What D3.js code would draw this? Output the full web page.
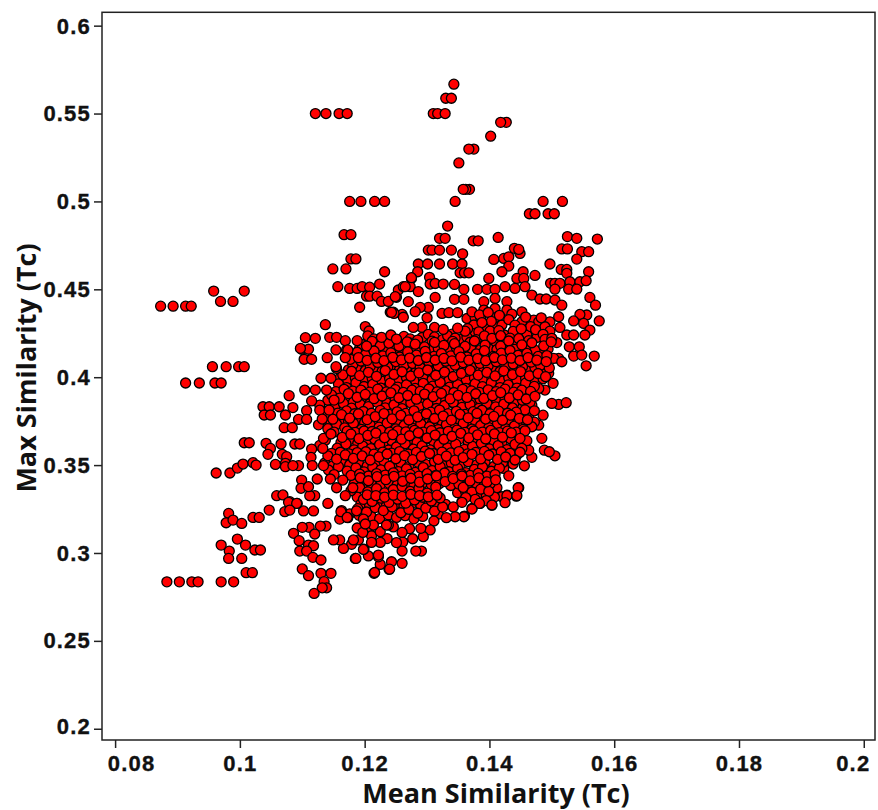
<!DOCTYPE html>
<html>
<head>
<meta charset="utf-8">
<style>
  html, body { margin: 0; padding: 0; background: #fff; }
  .tick text { font-family: "Liberation Sans", Arial, sans-serif; font-weight: bold; font-size: 22px; letter-spacing: 1.2px; fill: #111; stroke: #111; stroke-width: 0.35px; }
  .axis-title { font-family: "Open Sans", sans-serif; font-weight: 700; font-size: 27px; fill: #111; }
</style>
<script src="https://cdnjs.cloudflare.com/ajax/libs/d3/7.8.5/d3.min.js"></script>
</head>
<body>
<svg id="chart" width="878" height="810"></svg>
<script>
// Values, [mean similarity, max similarity]
const xTicks = [0.08, 0.1, 0.12, 0.14, 0.16, 0.18, 0.2];
const xTickLabels = ['0.08', '0.1', '0.12', '0.14', '0.16', '0.18', '0.2'];
const yTicks = [0.2, 0.25, 0.3, 0.35, 0.4, 0.45, 0.5, 0.55, 0.6];
const yTickLabels = ['0.2', '0.25', '0.3', '0.35', '0.4', '0.45', '0.5', '0.55', '0.6'];

const leftRows = [
  [.0873,.4404],[.0893,.4404],[.0913,.4404],[.0922,.4404],[.0958,.449],[.1007,.449],[.0969,.4431],[.0989,.4431],
  [.0956,.406],[.0978,.406],[.0998,.406],[.1007,.406],[.0913,.3967],[.0935,.3967],[.096,.3967],[.097,.3967],
  [.0883,.2836],[.0903,.2836],[.0923,.2836],[.0933,.2836],[.097,.2836],[.099,.2836],
  [.0962,.3455],[.0984,.3455],[.0996,.3483],[.1005,.3506],[.1021,.3514],[.1026,.35],[.1007,.3627],[.1015,.3627],
  [.0982,.3225],[.0978,.3172],[.0989,.3187],[.1003,.3168],[.1021,.3202],[.1031,.3202],[.0996,.3079],[.097,.3045],
  [.1009,.3045],[.0983,.3011],[.0982,.2969],[.1003,.2969],[.1024,.3017],[.1033,.3017],[.101,.2888],[.102,.2888]
];

const topPoints = [
  [.1121,.55],[.1138,.55],[.1159,.55],[.1172,.55],[.1176,.5],[.1194,.5],[.1216,.5],[.1232,.5],[.1167,.4811],[.1178,.4811],
  [.1178,.4673],[.1186,.4673],[.1149,.4616],[.117,.4616],[.1232,.46],[.1157,.4515],[.1176,.4505],[.1188,.4505],[.1196,.4515],
  [.1208,.4512],[.1224,.453],[.1203,.4461],[.1208,.4461],[.122,.4461],[.1227,.4431],[.1238,.4431],[.1251,.4455],[.1254,.4496],
  [.1192,.4398],[.1241,.437],[.1246,.437],[.1137,.4299],[.1201,.4288],[.1207,.4263],
  [.1343,.5667],[.133,.5587],[.1339,.5587],[.131,.55],[.1317,.55],[.1329,.55],[.1427,.545],[.1418,.545],[.1402,.5371],
  [.1375,.5298],[.1367,.5298],[.1351,.5219],[.1368,.5069],[.1362,.5069],[.1358,.5069],[.1345,.5],[.1486,.5],[.1517,.5],
  [.1464,.493],[.1473,.493],[.1494,.493],[.1504,.493],[.1333,.486],[.132,.479],[.1329,.479],[.1374,.4776],[.1382,.4776],
  [.1414,.4795],[.1525,.48],[.154,.479],[.1573,.4786],[.1302,.4723],[.1308,.4723],[.132,.4723],[.1339,.4723],[.1357,.4702],
  [.1407,.467],[.1423,.4676],[.1431,.4685],[.144,.4733],[.1449,.4704],[.1447,.4727],[.1516,.473],[.1525,.473],[.1548,.4714],
  [.1559,.4714],[.154,.4672],[.1497,.4644],[.1286,.4644],[.1301,.4644],[.132,.4644],[.1341,.4644],[.1356,.4644],[.1431,.4632],
  [.1285,.46],[.1275,.4562],[.1353,.4594],[.136,.4594],[.1367,.4594],[.142,.46],[.1454,.46],[.1473,.4579],[.1515,.4613],
  [.1524,.4613],[.1524,.4591],[.1559,.46],[.1399,.4562],[.1444,.4562],[.1455,.4562],[.1498,.4534],[.1505,.4534],[.1513,.4534],
  [.1529,.4543],[.1545,.4543],[.1555,.4549],[.1505,.4501],[.1527,.4501],[.154,.4501],[.1304,.4568],[.1305,.453],[.1313,.4533],
  [.1326,.453],[.1344,.4528],[.1262,.4515],[.1273,.4515],[.1359,.45],[.1381,.45],[.1396,.45],[.1409,.45],[.1425,.4515],
  [.1441,.4505],[.1457,.4515],[.1286,.4487],[.1249,.4458],[.1265,.4515],[.1275,.4566],[.127,.443],[.1313,.4454],[.1302,.4397],
  [.1289,.4397],[.1281,.4373],[.1344,.4443],[.1359,.4443],[.1391,.443],[.1428,.443],[.1409,.4448],[.1468,.4467],[.1481,.4445],
  [.1491,.4445],[.1505,.4439],[.1516,.441],[.1561,.4454],[.157,.441],[.1576,.432],[.1556,.4354],[.1545,.4357],[.1535,.432],
  [.1551,.4306],[.1561,.4268],[.1553,.424],[.1513,.4283],[.1497,.4315],[.1511,.4344],[.1524,.424],[.1535,.424],[.1528,.4173],
  [.1544,.4173],[.1535,.412],[.1548,.4126],[.1568,.412],[.1555,.4065],[.1511,.4107],[.1503,.4107],[.1516,.4088],[.1324,.4363],
  [.1335,.4367],[.1349,.4367],[.1364,.4334],[.1312,.4283],[.1292,.4283],[.1278,.4283],[.13,.4338],[.126,.4357],[.1247,.4363],
  [.1292,.4226],[.134,.4245],[.1352,.4217],[.1243,.4369],[.1262,.4341],[.1409,.4391],[.1409,.4338],[.1391,.4382],[.1428,.4382],
  [.1436,.4359],[.1452,.4372],[.1452,.4315],[.1471,.4325],[.1479,.4315],[.1489,.4287],[.1377,.434],[.1386,.434],[.1375,.4297],
  [.1392,.4283],[.1409,.4283],[.142,.4297],[.1424,.424],[.1377,.4249],[.146,.424],[.1476,.4226],[.1439,.4198],[.1407,.4192]
];

const lowerPoints = [
  [.1446,.3371],[.1428,.3326],[.1444,.3326],[.1404,.3273],[.1425,.3286],[.1384,.3282],[.1372,.325],[.1359,.3206],[.1345,.3206],
  [.1331,.3201],[.1356,.3288],[.1311,.3182],[.1305,.3131],[.1294,.3093],[.129,.314],[.1291,.3011],[.1282,.3011],[.126,.2941],
  [.1239,.2907],[.1215,.2884],[.1225,.2935],[.1243,.295],[.126,.3011],[.1222,.2978],[.1206,.2983],[.1185,.2969],[.1199,.3022],
  [.1251,.3059],[.1225,.306],[.1211,.306],[.1179,.3049],[.1166,.3026],[.116,.3074],[.115,.3074],[.119,.3074],[.1197,.3117],
  [.126,.3117],[.1238,.3159],[.1225,.3121],[.1214,.3159],[.1198,.3193],[.1173,.3201],[.116,.3193],[.1163,.3241],[.1141,.3282],
  [.1118,.3239],[.1102,.3239],[.1092,.3282],[.108,.3292],[.1138,.3153],[.1129,.3153],[.1111,.3146],[.11,.3146],[.1086,.3112],
  [.112,.3108],[.1095,.307],[.111,.3045],[.1118,.3041],[.1096,.3011],[.1107,.3011],[.1117,.2975],[.113,.296],[.11,.2909],
  [.111,.2871],[.113,.2884],[.1146,.2884],[.1135,.2837],[.1139,.2802],[.1132,.2802],[.1119,.277],[.1099,.3415],[.112,.3326],
  [.1112,.3326],[.1098,.3368],[.111,.3377],[.1059,.3326],[.1069,.333],[.1078,.3288],[.1091,.3282],[.1072,.3235],[.108,.3244],
  [.1047,.3244],[.1162,.3235],[.1172,.3202],[.1155,.3371],[.1169,.3326],[.1181,.3371],[.1187,.324],[.1124,.3421],[.1145,.3421],
  [.1165,.3415],[.1182,.3074],[.1186,.2969],[.1198,.302],[.1222,.2988],[.1216,.2889],[.124,.2908],[.1235,.3159],[.1201,.3165],
  [.1042,.3624],[.1066,.362],[.1088,.362],[.1096,.362],[.1049,.3595],[.1045,.3561],[.1068,.3561],[.1075,.3548],[.1115,.3591],
  [.1133,.3595],[.1134,.3652],[.1146,.3677],[.1057,.3504],[.1073,.351],[.1073,.3491],[.1094,.3497],[.1085,.3497],[.1114,.3544],
  [.1116,.3497],[.1134,.3497],[.1079,.3895],[.1037,.3832],[.1047,.3832],[.1039,.3785],[.1049,.3785],[.1063,.3832],[.1073,.3785],
  [.1085,.3827],[.1094,.376],[.1107,.381],[.1071,.3713],[.1084,.3713],[.1107,.376],[.1115,.3865],[.1104,.3927],[.1121,.3927],
  [.1139,.3927],[.1128,.3813],[.1143,.3813],[.1132,.3762],[.1151,.387],[.113,.3994],[.1146,.3994],[.1099,.4159],[.111,.4159],
  [.1103,.4102],[.1115,.4102],[.114,.4111],[.1155,.405],[.1154,.4155],[.1171,.4155],[.1105,.4225],[.1121,.4221],[.1144,.4227],
  [.1155,.4227],[.1169,.4208],[.1188,.4208],[.1227,.4227],[.1242,.424],[.1251,.4217],[.1203,.4177],[.1173,.4155],[.1169,.4111],
  [.1154,.406],[.1097,.4164]
];

const rightEdge = [
  [.1484,.4139],[.15,.4221],[.1471,.4154],[.1455,.4154],[.1463,.4097],[.1444,.4097],[.1471,.4041],[.1487,.4069],[.1495,.4022],
  [.1502,.3965],[.1489,.3927],[.1479,.3936],[.1511,.3845],[.1523,.3855],[.15,.3851],[.1486,.3784],[.1479,.3727],[.1463,.3784],
  [.1468,.3841],[.1449,.3832],[.1484,.3652],[.1488,.3585],[.1505,.3553],[.1496,.3576],[.1468,.3544],[.1456,.3496],[.1463,.3585],
  [.1444,.3557],[.1431,.3585],[.1423,.3481],[.1431,.3439],[.1407,.3449],[.1447,.3371],[.1412,.3371],[.1428,.3329],[.142,.332],
  [.1443,.3323],[.1404,.3272],[.1385,.3282],[.1372,.3253],[.136,.321],[.1356,.3291],[.1391,.3329],[.1369,.3329]
];

// upper block of the cloud, right of the middle
const upperBlock = [
  [.1372,.4372],[.1384,.4355],[.1398,.4368],[.1403,.4318],[.1416,.4352],[.1388,.4311],[.1401,.4262],[.1365,.4276],[.1383,.4258],[.1415,.4265],
  [.1431,.4328],[.1441,.4296],[.1458,.4342],[.1466,.4288],[.1438,.4261],[.1451,.4275],[.1483,.4338],[.1497,.4262],[.1474,.4271],[.1486,.4244],
  [.1364,.4228],[.1379,.4214],[.1392,.4235],[.1404,.4221],[.1418,.4236],[.1433,.4222],[.1447,.4219],[.1463,.4208],[.1489,.4215],[.1508,.4197],
  [.1205,.4235],[.1215,.4218],[.1233,.4205],[.1263,.4232],[.1273,.4218],[.1302,.4244],[.1312,.4229],[.1325,.4214],[.1333,.4236],[.1345,.4222],[.1361,.4262],[.1349,.4279],[.1326,.4272],
  [.1308,.4205],[.1285,.4211],[.1271,.4197],[.1248,.4213],[.1341,.4204],[.1369,.4199]
];

// dense middle of the cloud, written row by row
const corePoints = [
  [.1196,.4186],[.1212,.4204],[.1225,.4179],[.1239,.4193],[.1255,.4176],[.1268,.4201],[.1281,.4188],[.1296,.4172],[.1312,.4198],[.1327,.4181],[.1344,.4191],[.1361,.4175],[.1376,.4206],[.1393,.4183],[.1418,.4177],[.1431,.4206],[.1452,.4184],[.1468,.4196],[.1487,.4178],[.1499,.4201],
  [.1174,.4042],[.1187,.4058],[.1201,.4037],[.1214,.4052],[.1228,.4033],[.1242,.4061],[.1256,.4044],[.1268,.4059],[.1283,.4036],[.1295,.4053],[.1309,.4031],[.1323,.4057],[.1335,.4041],[.1351,.4062],[.1364,.4034],[.1377,.4051],[.1391,.4039],[.1404,.4056],[.1417,.4032],[.1431,.4048],[.1445,.4061],[.1459,.4038],[.1473,.4054],[.1489,.4036],
  [.1181,.4071],[.1194,.4092],[.1209,.4062],[.1221,.4084],[.1237,.4058],[.125,.4089],[.1263,.4067],[.1277,.4078],[.1289,.4056],[.1303,.4087],[.1318,.4064],[.133,.4091],[.1345,.4069],[.1358,.4083],[.1371,.4057],[.1385,.4079],[.1398,.4065],[.1411,.4088],[.1426,.4061],[.1438,.4076],[.1453,.4059],[.1467,.4086],[.1482,.4068],[.1496,.4053],
  [.1158,.3962],[.1171,.3941],[.1186,.3968],[.1199,.3947],[.1213,.3959],[.1226,.3938],[.1241,.3966],[.1253,.3944],[.1267,.3957],[.1281,.3936],[.1294,.3965],[.1309,.3949],[.1321,.3971],[.1336,.3943],[.1349,.3958],[.1362,.3937],[.1377,.3963],[.1389,.3946],[.1403,.3969],[.1417,.3941],[.143,.3956],[.1444,.3938],[.1458,.3966],[.1472,.3948],
  [.1141,.3869],[.1155,.3852],[.1168,.3874],[.1182,.3858],[.1195,.3871],[.1208,.3849],[.1222,.3866],[.1236,.3853],[.1249,.3873],[.1262,.3847],[.1276,.3864],[.129,.3851],[.1303,.3876],[.1317,.3856],[.133,.3868],[.1344,.3848],[.1357,.3867],[.1371,.3854],[.1385,.3875],[.1398,.3846],[.1412,.3863],[.1425,.3877],[.1439,.3851],[.1453,.3869],[.1465,.3857],
  [.1128,.3841],[.1152,.3829],[.1166,.3851],[.1179,.3824],[.1193,.3846],[.1206,.3833],[.122,.3857],[.1233,.3826],[.1247,.3843],[.126,.3821],[.1274,.3854],[.1287,.3834],[.1301,.3848],[.1315,.3822],[.1328,.3839],[.1342,.3856],[.1356,.3828],[.1369,.3844],[.1383,.3823],[.1396,.3851],[.141,.3831],[.1423,.3847],[.1437,.3825],[.1457,.3814],[.1472,.3809],
  [.1126,.3729],[.1141,.3707],[.1155,.3732],[.1168,.3712],[.1182,.3738],[.1195,.3703],[.1209,.3727],[.1223,.3716],[.1236,.3739],[.125,.3706],[.1263,.3724],[.1277,.3709],[.129,.3735],[.1304,.3718],[.1318,.3702],[.1331,.3731],[.1345,.3711],[.1358,.3737],[.1372,.3705],[.1386,.3725],[.1399,.3713],[.1413,.3736],[.1426,.3708],[.144,.3722],[.1454,.3703],[.1468,.3718],
  [.1137,.3642],[.1162,.3628],[.1176,.3645],[.1189,.3624],[.1203,.3638],[.1216,.3649],[.123,.3627],[.1243,.3641],[.1257,.3626],[.1271,.3644],[.1284,.3629],[.1298,.3647],[.1311,.3631],[.1325,.3643],[.1338,.3625],[.1352,.3648],[.1366,.3633],[.1379,.3646],[.1393,.3628],[.1406,.3641],[.142,.3624],[.1434,.3649],[.1447,.3632],[.146,.3639],
  [.1128,.3612],[.1156,.3596],[.117,.3621],[.1183,.3587],[.1197,.3608],[.121,.3594],[.1224,.3617],[.1238,.3585],[.1251,.3603],[.1265,.3622],[.1278,.3591],[.1292,.3609],[.1305,.3586],[.1319,.3615],[.1333,.3598],[.1346,.3619],[.136,.3589],[.1373,.3606],[.1387,.3624],[.14,.3592],[.1414,.3611],[.1428,.3588],[.1441,.3618],[.1452,.3595],
  [.1136,.3512],[.1149,.3496],[.1163,.3518],[.1176,.3502],[.119,.3515],[.1204,.3494],[.1217,.3509],[.1231,.3522],[.1244,.3498],[.1258,.3513],[.1271,.3493],[.1285,.3517],[.1298,.3504],[.1312,.3521],[.1326,.3495],[.1339,.3511],[.1353,.3497],[.1366,.3519],[.138,.3503],[.1393,.3516],[.1407,.3492],[.1421,.3514],[.1438,.3506],
  [.1142,.3472],[.1158,.3491],[.1172,.3466],[.1186,.3484],[.1199,.3461],[.1213,.3488],[.1226,.3473],[.124,.3493],[.1254,.3463],[.1267,.3479],[.1281,.3458],[.1294,.3486],[.1308,.3469],[.1321,.3491],[.1335,.3462],[.1349,.3481],[.1362,.3457],[.1376,.3476],[.1389,.3489],[.1403,.3465],[.1416,.3483],
  [.1183,.3392],[.1196,.3386],[.1211,.3393],[.1225,.3385],[.1239,.3396],[.1252,.3387],[.1266,.3394],[.1279,.3384],[.1293,.3397],[.1307,.3388],[.132,.3395],[.1338,.3384],[.1351,.3392],[.1365,.3386],[.1378,.3397],[.1392,.3389],[.1401,.3394],
  [.1178,.3354],[.1192,.3372],[.1205,.3348],[.1219,.3366],[.1232,.3342],[.1246,.3361],[.126,.3379],[.1273,.3351],[.1287,.3368],[.13,.3341],[.1314,.3375],[.1358,.3373],[.1372,.3347],[.1386,.3363],[.1399,.3351],
  [.1189,.3252],[.1203,.3233],[.1217,.3258],[.123,.3241],[.1244,.3262],[.1258,.3229],[.1271,.3248],[.1285,.3226],[.1298,.3255],[.1312,.3238],[.1325,.3261],
  [.1188,.4142],[.1201,.4127],[.1215,.4149],[.1229,.4121],[.1242,.4138],[.1256,.4115],[.1269,.4144],[.1283,.4126],[.1297,.4147],[.1311,.4118],[.1323,.4135],[.1338,.4121],[.1351,.4146],[.1364,.4114],[.1379,.4133],[.1392,.4151],[.1406,.4118],[.1419,.4137],[.1433,.4152],[.1446,.4125],[.146,.4136],[.1478,.4118],[.1492,.4123],
  [.1177,.4102],[.119,.4111],[.1204,.4096],[.1218,.4108],[.1231,.4094],[.1245,.4113],[.1259,.4099],[.1272,.4109],[.1286,.4095],[.1299,.4112],[.1313,.4098],[.1327,.4107],[.134,.4093],[.1354,.4114],[.1367,.4097],[.1381,.4106],[.1394,.4094],[.1408,.4112],[.1421,.4099],[.1435,.4108],[.1449,.4095],[.1462,.4111],[.1476,.4097],[.1491,.4089],
  [.1165,.4013],[.1179,.4034],[.1192,.4009],[.1206,.4028],[.1219,.4005],[.1233,.4038],[.1247,.4016],[.126,.4031],[.1274,.4006],[.1287,.4025],[.1301,.4041],[.1314,.4011],[.1328,.4029],[.1342,.4004],[.1355,.4022],[.1369,.4039],[.1382,.4012],[.1396,.4027],[.1409,.4007],[.1423,.4036],[.1437,.4015],[.145,.4032],[.1464,.4008],[.1478,.4021],[.149,.4003],
  [.1154,.3918],[.1167,.3931],[.1181,.3921],[.1194,.3927],[.1208,.3915],[.1221,.3932],[.1235,.3917],[.1249,.3929],[.1262,.3914],[.1276,.3926],[.1289,.3919],[.1303,.3933],[.1316,.3916],[.133,.3924],[.1343,.3913],[.1357,.3931],[.1371,.3922],[.1384,.3914],[.1398,.3928],[.1411,.3918],[.1425,.3932],[.1439,.3915],[.1452,.3926],[.1466,.3919],
  [.1147,.3899],[.116,.3881],[.1174,.3907],[.1188,.3886],[.1201,.3902],[.1215,.3878],[.1228,.3893],[.1242,.3911],[.1255,.3883],[.1269,.3896],[.1283,.3875],[.1296,.3904],[.131,.3889],[.1323,.3908],[.1337,.3877],[.135,.3897],[.1364,.3885],[.1378,.3906],[.1391,.3879],[.1405,.3895],[.1418,.3912],[.1432,.3882],[.1446,.3899],[.1459,.3876],[.1473,.3891],
  [.1142,.3802],[.1157,.3796],[.1171,.3808],[.1184,.3792],[.1198,.3805],[.1211,.3795],[.1225,.3811],[.1239,.3789],[.1252,.3803],[.1266,.3794],[.1279,.3809],[.1293,.3787],[.1306,.3801],[.132,.3813],[.1334,.3793],[.1347,.3806],[.1361,.3788],[.1374,.3804],[.1388,.3812],[.1401,.3791],[.1415,.3807],[.1429,.3795],[.1443,.3801],
  [.1136,.3782],[.1149,.3761],[.1163,.3787],[.1176,.3767],[.119,.3791],[.1204,.3759],[.1217,.3776],[.1231,.3793],[.1244,.3763],[.1258,.3783],[.1271,.3757],[.1285,.3774],[.1299,.3792],[.1312,.3765],[.1326,.3779],[.1339,.3756],[.1353,.3788],[.1366,.3769],[.138,.3794],[.1394,.3762],[.1407,.3777],[.1421,.3755],[.1434,.3784],[.1448,.3766],[.1461,.3758],
  [.1151,.3688],[.1172,.3693],[.1185,.3686],[.1199,.3694],[.1212,.3691],[.1226,.3697],[.124,.3687],[.1253,.3695],[.1266,.3689],[.128,.3698],[.1294,.3688],[.1307,.3696],[.1321,.3684],[.1334,.3692],[.1348,.3699],[.1361,.3686],[.1375,.3694],[.1389,.3688],[.1402,.3697],[.1416,.3685],[.1429,.3693],[.1443,.3687],[.1457,.3695],
  [.1164,.3658],[.1178,.3676],[.1191,.3651],[.1205,.3669],[.1218,.3682],[.1232,.3656],[.1245,.3673],[.1259,.3648],[.1272,.3667],[.1286,.3684],[.13,.3654],[.1313,.3671],[.1327,.3647],[.134,.3664],[.1354,.3681],[.1367,.3655],[.1381,.3672],[.1394,.3649],[.1408,.3678],[.1421,.3659],[.1435,.3683],[.1449,.3652],
  [.1147,.3567],[.1161,.3573],[.1175,.3564],[.1188,.3571],[.1202,.3576],[.1215,.3562],[.1229,.3574],[.1243,.3568],[.1256,.3577],[.127,.3563],[.1283,.3572],[.1297,.3579],[.131,.3565],[.1324,.3574],[.1338,.3569],[.1351,.3577],[.1365,.3564],[.1378,.3572],[.1392,.3578],[.1405,.3563],[.1419,.3575],[.1433,.3567],[.1449,.3573],
  [.1141,.3553],[.1155,.3534],[.1169,.3558],[.1182,.3538],[.1196,.3552],[.1209,.3529],[.1223,.3547],[.1236,.3563],[.125,.3536],[.1264,.3554],[.1277,.3531],[.1291,.3549],[.1304,.3566],[.1318,.3533],[.1331,.3551],[.1345,.3528],[.1358,.3543],[.1372,.3561],[.1386,.3535],[.1399,.3556],[.1413,.3532],[.1426,.3546],[.1441,.3529],
  [.1151,.3446],[.1178,.3441],[.1192,.3449],[.1206,.3438],[.1219,.3452],[.1233,.3443],[.1246,.3456],[.126,.3439],[.1273,.3447],[.1287,.3437],[.13,.3451],[.1314,.3442],[.1328,.3455],[.1341,.3436],[.1355,.3449],[.1369,.3441],[.1382,.3453],[.1396,.3437],[.1409,.3446],
  [.1193,.3428],[.1206,.3411],[.122,.3434],[.1234,.3417],[.1247,.3436],[.1261,.3408],[.1274,.3425],[.1288,.3403],[.1301,.3421],[.1315,.3439],[.1329,.3406],[.1342,.3423],[.1356,.3438],[.1369,.341],[.1383,.3427],[.1396,.3404],[.141,.3416],
  [.1198,.3305],[.1212,.3293],[.1226,.3312],[.1239,.3288],[.1253,.3306],[.1266,.3284],[.128,.3302],[.1293,.3317],[.1307,.3296],[.1321,.3313],[.1204,.3331],[.1218,.3326],[.1232,.3318],[.1246,.3329],[.126,.3322],[.1274,.3333],[.1288,.3326],[.1302,.3319],[.1316,.3329],[.1377,.3305],[.1395,.3298],[.1362,.3315]
];

// the rest of the middle, between the rows above
const coreInBetween = [
  [.1191,.4158],[.1206,.4169],[.1218,.4154],[.1233,.4166],[.1248,.4156],[.1262,.4163],[.1275,.4152],[.1289,.4167],[.1304,.4158],[.1318,.4164],[.1333,.4153],[.1347,.4168],[.1356,.4159],[.1371,.4165],[.1385,.4155],[.1399,.4162],[.1412,.4157],[.1426,.4169],[.144,.4158],[.1458,.4163],[.1473,.4154],[.1494,.4161],
  [.1159,.3991],[.1173,.3983],[.1185,.3997],[.1198,.3986],[.1212,.3994],[.1226,.3981],[.124,.3992],[.1254,.3985],[.1267,.3998],[.1281,.3982],[.1294,.3993],[.1308,.3987],[.1322,.3999],[.1335,.3981],[.1349,.3992],[.1363,.3986],[.1376,.3996],[.139,.3983],[.1404,.3994],[.1417,.3984],[.1431,.3997],[.1444,.3982],[.1458,.3993],[.1471,.3986],[.1486,.3991],
  [.1133,.3751],[.1146,.3739],[.116,.3756],[.1174,.3744],[.1187,.3758],[.12,.3742],[.1214,.3753],[.1228,.3747],[.1241,.3759],[.1255,.3741],[.1268,.3752],[.1282,.3746],[.1296,.3757],[.1309,.3743],[.1323,.3754],[.1336,.3741],[.135,.3758],[.1364,.3745],[.1377,.3753],[.1391,.3742],[.1404,.3756],[.1418,.3746],[.1431,.3752],[.1445,.3741],[.1459,.3749],[.1472,.3745],
  [.1188,.3318],[.1215,.3304],[.1236,.3301],[.1258,.3296],[.1287,.3289],[.1312,.3286],[.1349,.3343],[.1362,.3345],[.1381,.3334],[.1395,.3326],[.1408,.3318],
  [.1194,.3279],[.1208,.3272],[.1222,.3284],[.1235,.3271],[.1249,.3277],[.1263,.3268],[.1276,.3281],[.129,.3272],[.1303,.3278],[.1317,.3267],[.133,.3276],[.1342,.3262],
  [.1176,.3223],[.1191,.3214],[.1211,.3205],[.1224,.3196],[.1238,.3216],[.1251,.3202],[.1265,.3212],[.1279,.3194],[.1293,.3208],[.1318,.3221],
  [.1188,.3142],[.1207,.3131],[.1246,.3148],[.1272,.3138],[.1211,.3098],[.1236,.3082],[.1277,.3081],[.1261,.3062]
];

const margin = { left: 102, right: 875, top: 12.3, bottom: 740 };

const svg = d3.select('#chart');

const x = d3.scaleLinear().domain([0.0779, 0.2018]).range([margin.left, margin.right]);
const y = d3.scaleLinear().domain([0.1936, 0.6076]).range([margin.bottom, margin.top]);

// frame
svg.append('rect')
  .attr('x', margin.left)
  .attr('y', margin.top)
  .attr('width', margin.right - margin.left)
  .attr('height', margin.bottom - margin.top)
  .attr('fill', 'none')
  .attr('stroke', '#222')
  .attr('stroke-width', 1.5);

// axes
const xAxis = d3.axisBottom(x)
  .tickValues(xTicks)
  .tickSize(8)
  .tickPadding(7)
  .tickFormat((d, i) => xTickLabels[i]);

const yAxis = d3.axisLeft(y)
  .tickValues(yTicks)
  .tickSize(8)
  .tickPadding(3)
  .tickFormat((d, i) => yTickLabels[i]);

const gx = svg.append('g').attr('transform', `translate(0,${margin.bottom})`).call(xAxis);
const gy = svg.append('g').attr('transform', `translate(${margin.left},0)`).call(yAxis);

gx.select('.domain').remove();
gy.select('.domain').remove();
gx.selectAll('.tick line').attr('stroke', '#222').attr('stroke-width', 1.5);
gy.selectAll('.tick line').attr('stroke', '#222').attr('stroke-width', 1.5);

// bottom and top labels are not quite level with their ticks
gy.selectAll('.tick text').attr('y', (d, i) => {
  if (i === 0) return -2;
  if (i === yTicks.length - 1) return 1;
  return 0;
});

// the end labels sit inside the tick positions
gx.selectAll('.tick text').attr('dx', (d, i) => {
  if (i === 0) return 16;
  if (i === xTicks.length - 1) return -11;
  return 0;
});

// axis titles
svg.append('text')
  .attr('class', 'axis-title')
  .attr('x', 496)
  .attr('y', 802.5)
  .attr('text-anchor', 'middle')
  .text('Mean Similarity (Tc)');

svg.append('text')
  .attr('class', 'axis-title')
  .attr('transform', 'translate(36,368) rotate(-90)')
  .attr('text-anchor', 'middle')
  .text('Max Similarity (Tc)');

// points
const allPoints = [].concat(leftRows, topPoints, upperBlock, rightEdge, coreInBetween, corePoints, lowerPoints);

svg.append('g')
  .selectAll('circle')
  .data(allPoints)
  .enter()
  .append('circle')
  .attr('cx', d => x(d[0]))
  .attr('cy', d => y(d[1]))
  .attr('r', 5)
  .attr('fill', '#ff0000')
  .attr('stroke', '#000')
  .attr('stroke-width', 1.3);
</script>
</body>
</html>
